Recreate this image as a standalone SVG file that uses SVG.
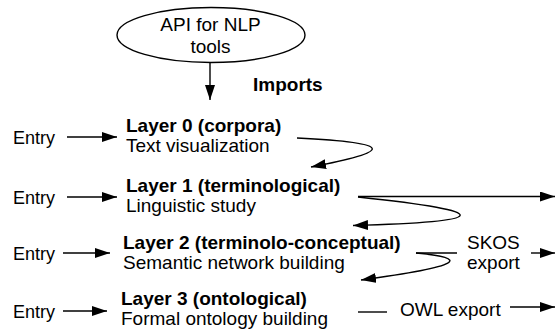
<svg xmlns="http://www.w3.org/2000/svg" width="558" height="333" viewBox="0 0 558 333">
<style>
  text { font-family: "Liberation Sans", Arial, Helvetica, sans-serif; fill: #000; }
  .t { font-size: 19px; }
  .b { font-size: 19px; font-weight: bold; }
  .e { font-size: 18px; }
  .c { text-anchor: middle; }
  .ln { fill: none; stroke: #000; stroke-width: 1.4; }
</style>
<defs>
  <marker id="ah" markerUnits="userSpaceOnUse" markerWidth="16" markerHeight="11" refX="15" refY="5" orient="auto">
    <path d="M0,0 L15,5 L0,10 z" fill="#000"/>
  </marker>
</defs>
<rect width="558" height="333" fill="#fff"/>

<g id="api">
  <ellipse cx="211" cy="35" rx="94" ry="27.5" fill="#fff" stroke="#000" stroke-width="1.4"/>
  <text class="t c" x="210.5" y="31">API for NLP</text>
  <text class="t c" x="210.5" y="53">tools</text>
</g>
<g id="imports-label"><text class="b" x="253" y="91">Imports</text></g>

<g id="entry0"><text class="e" x="13" y="144">Entry</text></g>
<g id="entry1"><text class="e" x="13" y="204">Entry</text></g>
<g id="entry2"><text class="e" x="13" y="260">Entry</text></g>
<g id="entry3"><text class="e" x="13" y="318">Entry</text></g>

<g id="layer0">
  <text class="b" x="126" y="132">Layer 0 (corpora)</text>
  <text class="t" x="126" y="152">Text visualization</text>
</g>
<g id="layer1">
  <text class="b" x="126" y="192">Layer 1 (terminological)</text>
  <text class="t" x="126" y="212">Linguistic study</text>
</g>
<g id="layer2">
  <text class="b" x="123" y="248.5">Layer 2 (terminolo-conceptual)</text>
  <text class="t" x="123" y="268.5">Semantic network building</text>
</g>
<g id="layer3">
  <text class="b" x="121" y="305">Layer 3 (ontological)</text>
  <text class="t" x="121" y="325">Formal ontology building</text>
</g>
<g id="skos">
  <text class="t" x="467" y="248.5">SKOS</text>
  <text class="t" x="467" y="269">export</text>
</g>
<g id="owl"><text class="t" x="400" y="315.5">OWL export</text></g>

<g id="connectors">
  <line class="ln" x1="210" y1="62.5" x2="210" y2="100" marker-end="url(#ah)"/>
  <line class="ln" x1="67" y1="137" x2="117" y2="137" marker-end="url(#ah)"/>
  <line class="ln" x1="67" y1="197" x2="117" y2="197" marker-end="url(#ah)"/>
  <line class="ln" x1="63" y1="253" x2="110" y2="253" marker-end="url(#ah)"/>
  <line class="ln" x1="63" y1="311" x2="107" y2="311" marker-end="url(#ah)"/>
  <path class="ln" d="M297,138 C400,143 390,152 311,167" marker-end="url(#ah)"/>
  <line class="ln" x1="358" y1="196.5" x2="555" y2="196.5" marker-end="url(#ah)"/>
  <path class="ln" d="M358,197 C500,212 490,222 353,225.5" marker-end="url(#ah)"/>
  <line class="ln" x1="416" y1="253" x2="457" y2="253"/>
  <line class="ln" x1="531" y1="253" x2="555" y2="253" marker-end="url(#ah)"/>
  <path class="ln" d="M416,253 C470,258 465,266 361,280" marker-end="url(#ah)"/>
  <line class="ln" x1="358" y1="312" x2="387" y2="312"/>
  <line class="ln" x1="510" y1="307" x2="555" y2="307" marker-end="url(#ah)"/>
</g>
</svg>
